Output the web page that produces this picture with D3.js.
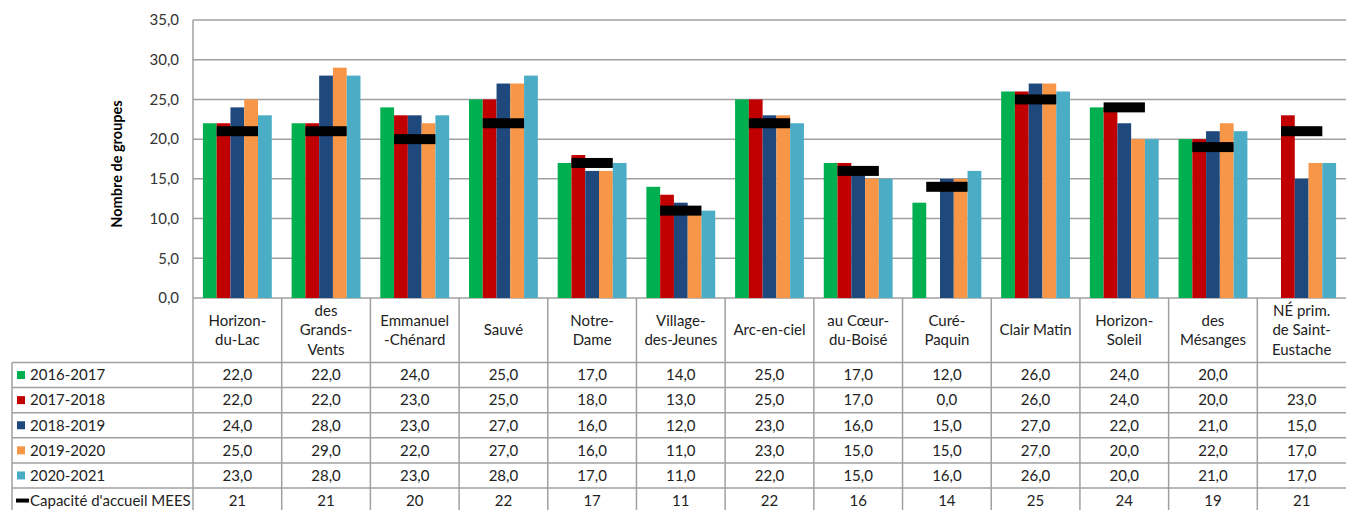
<!DOCTYPE html>
<html><head><meta charset="utf-8">
<script src="https://cdn.jsdelivr.net/npm/d3@7"></script>
<style>body{margin:0;background:#fff}svg{display:block}</style>
</head><body><svg id="c" width="1346" height="510"></svg>
<script>
const categories = [
  ["Horizon-","du-Lac"],["des","Grands-","Vents"],["Emmanuel","-Chénard"],["Sauvé"],
  ["Notre-","Dame"],["Village-","des-Jeunes"],["Arc-en-ciel"],["au Cœur-","du-Boisé"],
  ["Curé-","Paquin"],["Clair Matin"],["Horizon-","Soleil"],["des","Mésanges"],
  ["NÉ prim.","de Saint-","Eustache"]
];
const seriesNames = ["2016-2017","2017-2018","2018-2019","2019-2020","2020-2021"];
const seriesColors = ["#00B050","#C00000","#1F497D","#F79646","#4BACC6"];
const s2016 = [22,22,24,25,17,14,25,17,12,26,24,20,null];
const s2017 = [22,22,23,25,18,13,25,17,0,26,24,20,23];
const s2018 = [24,28,23,27,16,12,23,16,15,27,22,21,15];
const s2019 = [25,29,22,27,16,11,23,15,15,27,20,22,17];
const s2020 = [23,28,23,28,17,11,22,15,16,26,20,21,17];
const capacity = [21,21,20,22,17,11,22,16,14,25,24,19,21];
const capacityName = "Capacité d'accueil MEES";
const yTicks = [0,5,10,15,20,25,30,35];
const seriesValues = [s2016,s2017,s2018,s2019,s2020];

(function(){
const svg = d3.select("#c");
const FONT = "Lato, 'Open Sans', sans-serif";
const GRID = "#a0a0a0";
const pL = 193, pR = 1346, pT = 20, pB = 298;
const x = d3.scaleBand().domain(d3.range(categories.length)).range([pL, pR]).padding(0);
const xs = d3.scaleBand().domain(d3.range(seriesNames.length)).range([0, x.bandwidth()]).paddingInner(0).paddingOuter(0.72);
const y = d3.scaleLinear().domain([0,35]).range([pB, pT]);
const fmt = v => v == null ? "" : d3.format(".1f")(v).replace(".", ",");

svg.append("g").selectAll("line").data(yTicks).join("line")
  .attr("x1", pL).attr("x2", pR).attr("y1", d => y(d)).attr("y2", d => y(d))
  .attr("stroke", GRID).attr("stroke-width", 1.5);
svg.append("g").selectAll("text").data(yTicks).join("text")
  .attr("x", 179).attr("y", d => y(d)).attr("dy", "0.35em").attr("text-anchor", "end")
  .attr("font-family", FONT).attr("font-size", 15).attr("fill", "#333").text(d => fmt(d));
svg.append("text").attr("transform", `translate(122,${(pT+pB)/2+5}) rotate(-90)`)
  .attr("text-anchor", "middle").attr("font-family", FONT).attr("font-size", 14.5)
  .attr("font-weight", "bold").attr("fill", "#000").text("Nombre de groupes");

seriesValues.forEach((vals, si) => {
  svg.append("g").selectAll("rect").data(vals.map((v,i)=>({v,i})).filter(d => d.v != null && d.v > 0)).join("rect")
    .attr("x", d => x(d.i) + xs(si)).attr("width", xs.bandwidth())
    .attr("y", d => y(d.v)).attr("height", d => y(0) - y(d.v))
    .attr("fill", seriesColors[si]);
});
svg.append("g").selectAll("rect").data(capacity.map((v,i)=>({v,i}))).join("rect")
  .attr("x", d => x(d.i) + xs(1)).attr("width", xs.bandwidth()*3)
  .attr("y", d => y(d.v) - 5).attr("height", 10).attr("fill", "#000");

const rowTop = 362.5, rowH = 25.1, tableLeft = 12;
const rows = seriesNames.length + 1;
const tg = svg.append("g");
tg.append("line").attr("x1", pL).attr("x2", pL).attr("y1", pT).attr("y2", 510).attr("stroke", GRID).attr("stroke-width", 1.5);
tg.selectAll("line.sep").data(d3.range(1, categories.length)).join("line").attr("class","sep")
  .attr("x1", d => x(d)).attr("x2", d => x(d)).attr("y1", pB).attr("y2", 510)
  .attr("stroke", GRID).attr("stroke-width", 1.5);
tg.selectAll("line.row").data(d3.range(rows+1)).join("line").attr("class","row")
  .attr("x1", tableLeft).attr("x2", pR).attr("y1", d => rowTop + d*rowH).attr("y2", d => rowTop + d*rowH)
  .attr("stroke", GRID).attr("stroke-width", 1.5);
tg.append("line").attr("x1", tableLeft).attr("x2", tableLeft).attr("y1", rowTop).attr("y2", 510).attr("stroke", GRID).attr("stroke-width", 1.5);

categories.forEach((lines, i) => {
  const cx = x(i) + x.bandwidth()/2;
  const lh = 19.5;
  const cy = 330;
  lines.forEach((t, k) => {
    tg.append("text").attr("x", cx).attr("y", cy + (k - (lines.length-1)/2)*lh).attr("dy","0.35em")
      .attr("text-anchor","middle").attr("font-family", FONT).attr("font-size", 15).attr("fill","#222").text(t);
  });
});

const allRows = seriesValues.concat([capacity]);
allRows.forEach((vals, r) => {
  const cy = rowTop + r*rowH + rowH/2;
  if (r < seriesNames.length) {
    tg.append("rect").attr("x", 17).attr("y", cy-4).attr("width", 8).attr("height", 8).attr("fill", seriesColors[r]);
    tg.append("text").attr("x", 30).attr("y", cy).attr("dy","0.35em").attr("font-family", FONT)
      .attr("font-size", 15).attr("fill","#222").text(seriesNames[r]);
  } else {
    tg.append("rect").attr("x", 16).attr("y", cy-2).attr("width", 13).attr("height", 4).attr("fill", "#000");
    tg.append("text").attr("x", 30).attr("y", cy).attr("dy","0.35em").attr("font-family", FONT)
      .attr("font-size", 15).attr("fill","#222").text(capacityName);
  }
  tg.selectAll(null).data(vals.map((v,i)=>({v,i}))).join("text")
    .attr("x", d => x(d.i) + x.bandwidth()/2).attr("y", cy).attr("dy","0.35em").attr("text-anchor","middle")
    .attr("font-family", FONT).attr("font-size", 15).attr("fill","#222")
    .text(d => r < seriesNames.length ? fmt(d.v) : d.v);
});
})();
</script></body></html>
